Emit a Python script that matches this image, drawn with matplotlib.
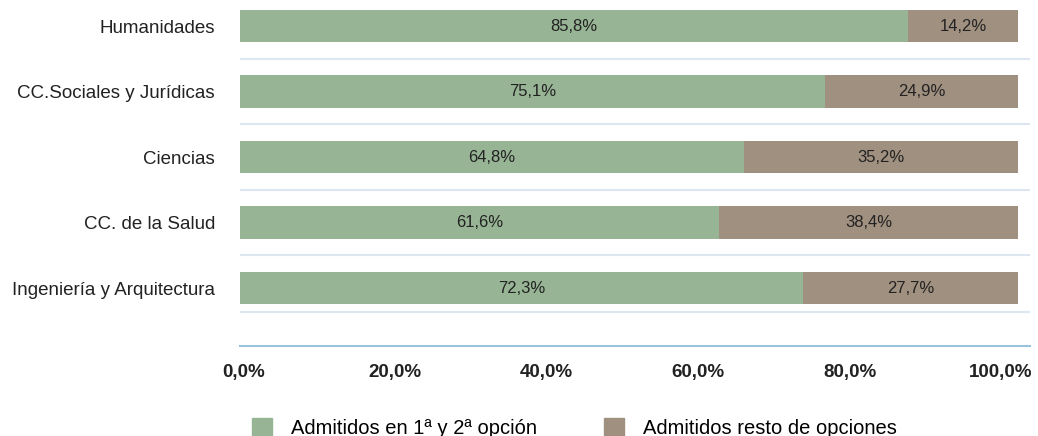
import matplotlib.pyplot as plt
import numpy as np

categories = ["Humanidades", "CC.Sociales y Jurídicas", "Ciencias",
              "CC. de la Salud", "Ingeniería y Arquitectura"]
primera = [85.8, 75.1, 64.8, 61.6, 72.3]
resto = [14.2, 24.9, 35.2, 38.4, 27.7]
series_labels = ["Admitidos en 1ª y 2ª opción", "Admitidos resto de opciones"]
tick_values = [0, 20, 40, 60, 80, 100]

GREEN = "#97b594"
BROWN = "#a09080"
GRID = "#dde7f1"
AXIS = "#9cc3de"
FONT = ["Liberation Sans", "DejaVu Sans"]

W, H = 1038, 436
fig = plt.figure(figsize=(W / 100, H / 100), dpi=100)

# main bar axes: x 240..1030 px, y 0..346 px
ax = fig.add_axes([240 / W, 1 - 346 / H, 790 / W, 346 / H])
y = np.arange(len(categories))
ax.barh(y, primera, height=0.49, color=GREEN)
ax.barh(y, resto, left=primera, height=0.49, color=BROWN)
for yi, a, b in zip(y, primera, resto):
    ax.text(a / 2, yi, f"{a:.1f}%".replace(".", ","), ha="center", va="center",
            fontsize=12, family=FONT, color="#222222")
    ax.text(a + b / 2, yi, f"{b:.1f}%".replace(".", ","), ha="center", va="center",
            fontsize=12, family=FONT, color="#222222")

ax.set_xlim(0, 101.5)
ax.set_ylim(4.885, -0.397)
ax.set_yticks(y)
ax.set_yticklabels(categories, fontsize=13.5, family=FONT, color="#222222")
# separators between categories (the last one sits a bit higher in the original)
ax.set_yticks([0.5, 1.5, 2.5, 3.5, 4.36], minor=True)
ax.tick_params(axis="y", which="both", length=0)
ax.tick_params(axis="y", which="major", pad=18)
ax.grid(axis="y", which="minor", color=GRID, linewidth=1.5)
ax.set_xticks([])
for s in ["top", "right", "left"]:
    ax.spines[s].set_visible(False)
ax.spines["bottom"].set_color(AXIS)
ax.spines["bottom"].set_linewidth(1.5)
ax.set_axisbelow(True)

# percentage scale underneath (offset from bars as in original)
ax2 = fig.add_axes([244 / W, 1 - 347 / H, 757 / W, 0.001])
ax2.set_xlim(0, 100)
ax2.set_xticks(tick_values)
ax2.set_xticklabels([f"{v:.1f}%".replace(".", ",") for v in tick_values],
                    fontsize=13.5, fontweight="bold", family=FONT,
                    color="#222222")
ax2.tick_params(axis="x", length=0, pad=12)
ax2.set_yticks([])
for s in ax2.spines.values():
    s.set_visible(False)
ax2.patch.set_alpha(0)

handles = [plt.Rectangle((0, 0), 1, 1, color=GREEN),
           plt.Rectangle((0, 0), 1, 1, color=BROWN)]
fig.legend(handles, series_labels, loc="center left", bbox_to_anchor=(252 / W, 1 - 428 / H),
           ncol=2, frameon=False, prop={"family": FONT, "size": 14.5},
           handlelength=1.0, handleheight=1.0, handletextpad=0.95, columnspacing=3.3,
           borderaxespad=0, borderpad=0)

fig.savefig("out.png", dpi=100)
